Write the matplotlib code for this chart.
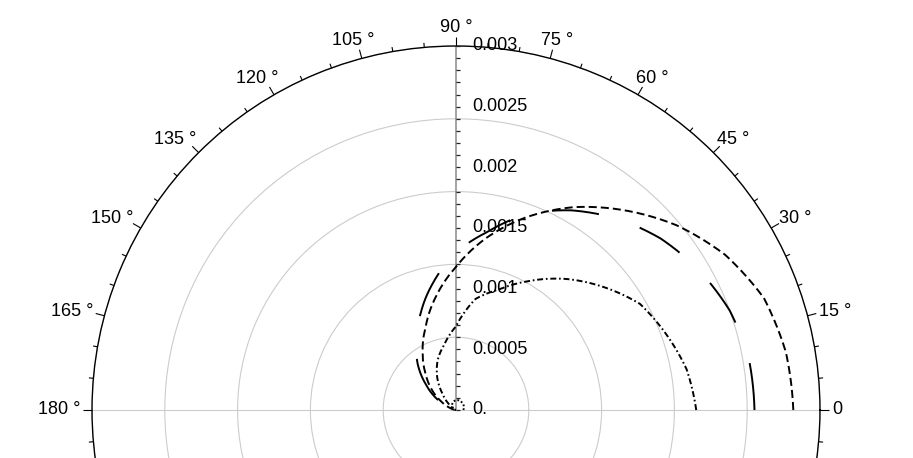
import numpy as np
import matplotlib
matplotlib.use("Agg")
import matplotlib.pyplot as plt
from matplotlib.path import Path

plt.rcParams['font.family'] = ['Liberation Sans', 'DejaVu Sans']
plt.rcParams['lines.scale_dashes'] = False

# curve readings: angle (deg) and radius
theta_long = [0, 10, 20, 30, 40, 50, 60, 70, 80, 90, 100, 110, 120, 130, 140, 150, 160, 170, 180]
r_long = [0.00246, 0.00245, 0.00240, 0.00231, 0.00220, 0.00206, 0.00190, 0.00172, 0.00149, 0.00130,
          0.00107, 0.00085, 0.00065, 0.00049, 0.00032, 0.00018, 0.00008, 0.00002, 0.0]

theta_dash = [0, 10, 20, 30, 40, 50, 60, 70, 80, 90, 100, 110, 120, 130, 140, 150, 160, 170, 180]
r_dash = [0.00278, 0.00276, 0.00270, 0.00256, 0.00237, 0.00215, 0.00193, 0.00169, 0.00144, 0.00118,
          0.00095, 0.00073, 0.00055, 0.00039, 0.00026, 0.00014, 0.00006, 0.00002, 0.0]

theta_dashdot = [0, 10, 20, 30, 40, 50, 60, 70, 80, 90, 100, 110, 120, 130, 140, 150, 160, 180]
r_dashdot = [0.00198, 0.00193, 0.00184, 0.00175, 0.00158, 0.00141, 0.00123, 0.00106, 0.00093, 0.00069,
             0.00055, 0.00044, 0.00031, 0.00017, 0.00008, 0.00003, 0.00001, 0.0]

theta_dot = [0, 20, 45, 70, 90, 110, 130, 150, 165, 180]
r_dot = [0.00006, 0.00007, 0.000078, 0.000083, 0.000082, 0.00007, 0.00005, 0.000025, 0.00001, 0.0]

r_max = 0.003
grid_radii = [0.0006, 0.0012, 0.0018, 0.0024, 0.003]
r_tick_major = [0.0, 0.0005, 0.001, 0.0015, 0.002, 0.0025, 0.003]
r_tick_labels = ["0.", "0.0005", "0.001", "0.0015", "0.002", "0.0025", "0.003"]
angle_labels = list(range(0, 181, 15))

W, H = 913, 458
cx, cy, R = 456, 410, 364

fig = plt.figure(figsize=(W / 100, H / 100), dpi=100)
ax = fig.add_axes([(cx - R) / W, (H - cy - R) / H, 2 * R / W, 2 * R / H], projection='polar')
ax.set_ylim(0, r_max)

# grid circles
ax.set_yticks(grid_radii)
ax.set_yticklabels([])
ax.tick_params(axis='y', length=0)
ax.yaxis.grid(True, color='#cccccc', lw=0.8)
ax.set_xticks([])
ax.xaxis.grid(False)
ax.spines['polar'].set_linewidth(1.0)
ax.spines['polar'].set_color('black')

# angular ticks on the outer circle, pointing outward
px = r_max / R
for a in range(0, 360, 5):
    length = 9 if a % 15 == 0 else 4.5
    t = np.radians(a)
    ax.plot([t, t], [r_max, r_max + length * px], color='black', lw=0.8,
            clip_on=False, solid_capstyle='butt')

# horizontal diameter
ax.plot([0, 0], [0, r_max], color='#cccccc', lw=0.8, zorder=1)
ax.plot([np.pi, np.pi], [0, r_max], color='#cccccc', lw=0.8, zorder=1)

# radial axis along 90 deg
ax.plot([np.pi / 2, np.pi / 2], [0, r_max], color='#8a8a8a', lw=1.1, zorder=2)
tick_marker = Path([(0, 0), (1, 0)], [Path.MOVETO, Path.LINETO])
r_minor = np.arange(0, 31) * 0.0001
ax.plot(np.full(len(r_minor), np.pi / 2), r_minor, ls='none', marker=tick_marker, ms=6,
        mec='#222222', mew=0.9, clip_on=False, zorder=3)
for r, lbl in zip(r_tick_major, r_tick_labels):
    ax.annotate(lbl, (np.pi / 2, r), xytext=(16, 0), textcoords='offset pixels',
                ha='left', va='center', fontsize=13, annotation_clip=False, zorder=4)

# curves
curves = [
    (theta_long, r_long, (34, 31)),
    (theta_dash, r_dash, (5.8, 2.9)),
    (theta_dashdot, r_dashdot, (4.3, 2.0, 1.2, 2.0)),
    (theta_dot, r_dot, (1.3, 1.5)),
]
for th, rr, dash in curves:
    line, = ax.plot(np.radians(th), rr, color='black', lw=1.4, dashes=dash, zorder=5)
    # let the polar transform draw curved segments between readings
    line.get_path()._interpolation_steps = 20

# angle labels, placed outside the circle
texts = []
for a in angle_labels:
    lbl = "0" if a == 0 else f"{a} \u00b0"
    t = ax.annotate(lbl, (np.radians(a), r_max), xytext=(0, 0), textcoords='offset pixels',
                    ha='center', va='center', fontsize=13, annotation_clip=False)
    texts.append((a, t))

fig.canvas.draw()
renderer = fig.canvas.get_renderer()
for a, t in texts:
    bb = t.get_window_extent(renderer)
    c, s = np.cos(np.radians(a)), np.sin(np.radians(a))
    t.xyann = ((12 + bb.width / 2) * c, (12 + bb.height / 2 - 2) * s)

fig.savefig("out.png", dpi=100)
